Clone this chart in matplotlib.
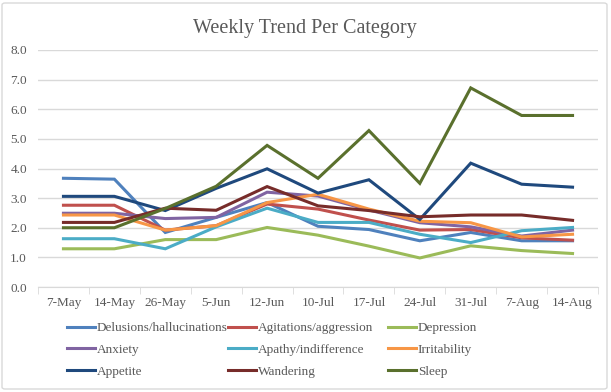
import matplotlib.pyplot as plt
from matplotlib.patches import FancyBboxPatch
from matplotlib.lines import Line2D

weeks = ['7-May', '14-May', '26-May', '5-Jun', '12-Jun', '10-Jul',
         '17-Jul', '24-Jul', '31-Jul', '7-Aug', '14-Aug']

delusions = [3.67, 3.64, 1.84, 2.35, 2.85, 2.05, 1.94, 1.56, 1.84, 1.56, 1.56]
agitations = [2.76, 2.76, 1.92, 2.07, 2.80, 2.63, 2.26, 1.92, 1.94, 1.66, 1.58]
depression = [1.29, 1.29, 1.60, 1.60, 2.01, 1.75, 1.38, 0.98, 1.39, 1.23, 1.13]
anxiety = [2.49, 2.49, 2.31, 2.35, 3.20, 3.07, 2.60, 2.17, 2.03, 1.72, 1.92]
apathy = [1.63, 1.63, 1.29, 2.03, 2.66, 2.18, 2.18, 1.78, 1.50, 1.90, 2.01]
irritability = [2.43, 2.43, 1.92, 2.07, 2.85, 3.13, 2.63, 2.22, 2.17, 1.69, 1.78]
appetite = [3.06, 3.06, 2.58, 3.33, 3.99, 3.17, 3.62, 2.28, 4.18, 3.47, 3.37]
wandering = [2.18, 2.18, 2.66, 2.59, 3.39, 2.74, 2.58, 2.37, 2.43, 2.43, 2.25]
sleep = [2.00, 2.00, 2.65, 3.40, 4.78, 3.67, 5.28, 3.50, 6.72, 5.79, 5.79]

names = ['Delusions/hallucinations', 'Agitations/aggression', 'Depression',
         'Anxiety', 'Apathy/indifference', 'Irritability',
         'Appetite', 'Wandering', 'Sleep']
series = [delusions, agitations, depression, anxiety, apathy, irritability,
          appetite, wandering, sleep]
colors = ['#4F81BD', '#C0504D', '#9BBB59', '#8064A2', '#4BACC6', '#F79646',
          '#1F497D', '#772C2A', '#5A702D']

text_color = '#595959'
plt.rcParams['font.family'] = ['Liberation Serif', 'DejaVu Serif']

fig = plt.figure(figsize=(6.11, 3.92), dpi=100)
ax = fig.add_axes([38 / 611, 1 - 287 / 392, 560 / 611, 237 / 392])

x = list(range(len(weeks)))
for vals, name, c in zip(series, names, colors):
    ax.plot(x, vals, color=c, linewidth=2.2, label=name, solid_joinstyle='miter')

ax.set_ylim(0, 8)
ax.set_yticks([i for i in range(9)])
ax.set_yticklabels([f'{i:.1f}' for i in range(9)])
ax.set_xlim(-0.5, len(weeks) - 0.5)
ax.set_xticks(x)
ax.set_xticklabels(weeks)
ax.set_xticks([i - 0.5 for i in range(len(weeks) + 1)], minor=True)
ax.tick_params(axis='x', which='major', length=0, pad=7.5, labelsize=9.5, labelcolor=text_color)
ax.tick_params(axis='x', which='minor', length=5, color='#D9D9D9', direction='out')
ax.tick_params(axis='y', length=0, pad=8, labelsize=9.5, labelcolor=text_color)
ax.grid(axis='y', color='#D9D9D9', linewidth=1)
ax.set_axisbelow(True)
for s in ['top', 'right', 'left']:
    ax.spines[s].set_visible(False)
ax.spines['bottom'].set_color('#D9D9D9')

fig.text(305 / 611, 1 - 28 / 392, 'Weekly Trend Per Category', ha='center', va='center',
         fontsize=14.5, color=text_color)

# legend laid out in three columns, row-major like the original
col_x = [67 / 611, 228 / 611, 388 / 611]
for col in range(3):
    idx = [col, col + 3, col + 6]
    handles = [Line2D([], [], color=colors[i], linewidth=2.2) for i in idx]
    leg = fig.legend(handles, [names[i] for i in idx], loc='upper left',
                     bbox_to_anchor=(col_x[col], 1 - 322 / 392), frameon=False,
                     fontsize=9.5, handlelength=2.1, handletextpad=0.15,
                     labelspacing=0.72, borderaxespad=0, borderpad=0)
    for t in leg.get_texts():
        t.set_color(text_color)

fig.patches.append(FancyBboxPatch((2 / 611, 3 / 392), 605 / 611, 386 / 392,
                                  boxstyle='round,pad=0,rounding_size=0.005',
                                  transform=fig.transFigure, facecolor='none',
                                  edgecolor='#D9D9D9', linewidth=1))

fig.savefig('out.png', dpi=100)
